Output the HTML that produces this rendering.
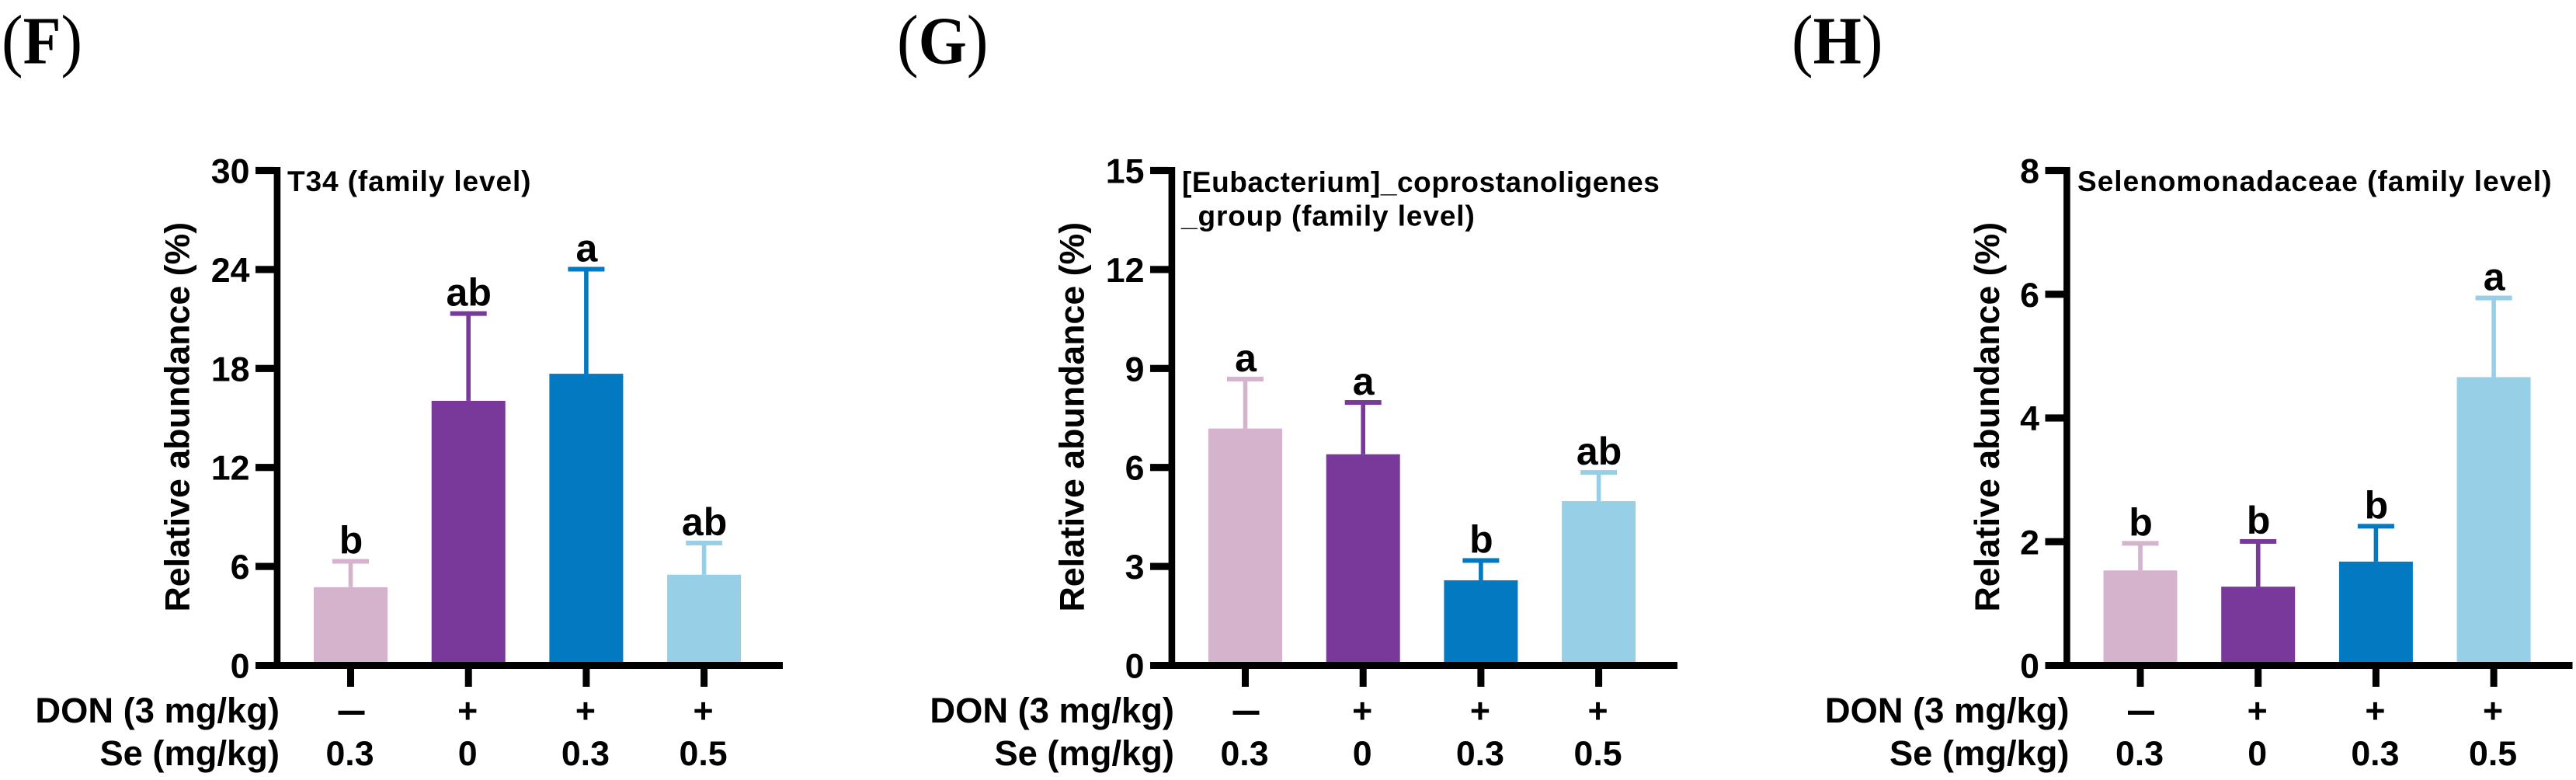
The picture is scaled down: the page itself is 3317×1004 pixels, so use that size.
<!DOCTYPE html>
<html lang="en">
<head>
<meta charset="utf-8">
<title>Relative abundance bar charts (F, G, H)</title>
<style>
  html, body { margin: 0; padding: 0; background: #fff; }
  svg { display: block; }
  text { font-family: "Liberation Sans", sans-serif; font-weight: 700; fill: #000; }
  .panel-letter { font-family: "Liberation Serif", serif; font-size: 87px; }
  .panel-letter .paren { font-weight: 400; font-size: 90px; }
  .panel-title { font-size: 37px; letter-spacing: 0.9px; }
  .axis-title { font-size: 44.7px; text-anchor: middle; }
  .row-label { font-size: 45.3px; text-anchor: end; }
  .tick-label { font-size: 44.7px; text-anchor: end; }
  .cat-label { font-size: 44.7px; text-anchor: middle; }
  .sig-label { font-size: 50px; text-anchor: middle; }
</style>
</head>
<body>
<svg id="figure" xmlns="http://www.w3.org/2000/svg" width="3317" height="1004" viewBox="0 0 3317 1004">
  <rect x="0" y="0" width="3317" height="1004" fill="#fff"/>

  <text class="panel-letter" transform="translate(2 81.7) scale(0.92 1)"><tspan class="paren">(</tspan>F<tspan class="paren">)</tspan></text>
  <text class="panel-letter" transform="translate(1155 81.7) scale(0.92 1)"><tspan class="paren">(</tspan>G<tspan class="paren">)</tspan></text>
  <text class="panel-letter" transform="translate(2307 81.7) scale(0.92 1)"><tspan class="paren">(</tspan>H<tspan class="paren">)</tspan></text>

  <text class="panel-title" x="370" y="246">T34 (family level)</text>
  <text class="panel-title" x="1522" y="247" style="letter-spacing:0.55px">[Eubacterium]_coprostanoligenes</text>
  <text class="panel-title" x="1521" y="290.6">_group (family level)</text>
  <text class="panel-title" x="2675" y="246" style="letter-spacing:1.02px">Selenomonadaceae (family level)</text>

  <text class="axis-title" transform="translate(243.5 536.7) rotate(-90)">Relative abundance (%)</text>
  <text class="axis-title" transform="translate(1395.7 536.7) rotate(-90)">Relative abundance (%)</text>
  <text class="axis-title" transform="translate(2574 536.7) rotate(-90)">Relative abundance (%)</text>

  <text class="row-label" x="360" y="930">DON (3 mg/kg)</text>
  <text class="row-label" x="360" y="985">Se (mg/kg)</text>
  <text class="row-label" x="1512" y="930">DON (3 mg/kg)</text>
  <text class="row-label" x="1512" y="985">Se (mg/kg)</text>
  <text class="row-label" x="2664.5" y="930">DON (3 mg/kg)</text>
  <text class="row-label" x="2664.5" y="985">Se (mg/kg)</text>

  <g id="plots"></g>
</svg>

<script>
const donLevels = ['—', '+', '+', '+'];
const seLevels = ['0.3', '0', '0.3', '0.5'];

const fTicks = [0, 6, 12, 18, 24, 30];
const fMeans = [4.74, 16.04, 17.68, 5.50];
const fErrors = [1.57, 5.29, 6.34, 1.92];
const fLetters = ['b', 'ab', 'a', 'ab'];

const gTicks = [0, 3, 6, 9, 12, 15];
const gMeans = [7.18, 6.40, 2.58, 4.98];
const gErrors = [1.50, 1.57, 0.60, 0.87];
const gLetters = ['a', 'a', 'b', 'ab'];

const hTicks = [0, 2, 4, 6, 8];
const hMeans = [1.535, 1.273, 1.678, 4.66];
const hErrors = [0.438, 0.731, 0.572, 1.28];
const hLetters = ['b', 'b', 'b', 'a'];

const groupColors = ['#D5B3CD', '#78399B', '#0279C1', '#97CFE6'];

const SVG_NS = 'http://www.w3.org/2000/svg';
const plots = document.getElementById('plots');

const Y_ZERO = 856.5;
const Y_SPAN = 637;
const FIRST_CENTER = 451.5;
const BAR_PITCH = 151.7;
const BAR_WIDTH = 95;
const CAP_WIDTH = 47;
const CAP_HEIGHT = 6;
const WHISKER_WIDTH = 5.6;

function makeShape(tag, props) {
  const el = document.createElementNS(SVG_NS, tag);
  Object.keys(props).forEach(function (k) { el.setAttribute(k, props[k]); });
  return el;
}

function drawPanel(key, originX, ticks, means, errors, letters) {
  const yMax = Math.max.apply(null, ticks);
  const yScale = function (v) { return Y_ZERO - (Y_SPAN * v) / yMax; };
  const xScale = function (i) { return originX + FIRST_CENTER + BAR_PITCH * i; };

  const group = makeShape('g', {});
  
  
  plots.appendChild(group);

  means.forEach(function (mean, i) {
    const cx = xScale(i);
    const top = yScale(mean);
    const errTop = yScale(mean + errors[i]);
    const color = groupColors[i];

    const bar = makeShape('rect', { x: cx - BAR_WIDTH / 2, y: top, width: BAR_WIDTH, height: yScale(0) - top, fill: color });
    
    
    group.appendChild(bar);

    const whisker = makeShape('rect', { x: cx - WHISKER_WIDTH / 2, y: errTop, width: WHISKER_WIDTH, height: top - errTop, fill: color });
    
    
    group.appendChild(whisker);

    const cap = makeShape('rect', { x: cx - CAP_WIDTH / 2, y: errTop - CAP_HEIGHT / 2, width: CAP_WIDTH, height: CAP_HEIGHT, fill: color });
    
    
    group.appendChild(cap);

    const sig = makeShape('text', { class: 'sig-label', x: cx + 0.5, y: errTop - 10 });
    sig.textContent = letters[i];
    
    
    group.appendChild(sig);
  });

  const yAxis = makeShape('rect', { x: originX + 352.6, y: 215, width: 8.6, height: 646, fill: '#000' });
  
  
  group.appendChild(yAxis);

  const xAxis = makeShape('rect', { x: originX + 329, y: 852, width: 679, height: 9, fill: '#000' });
  
  
  group.appendChild(xAxis);

  ticks.forEach(function (t) {
    const y = yScale(t);
    if (t !== 0) {
      const tick = makeShape('rect', { x: originX + 329, y: y - 4.6, width: 24, height: 9.2, fill: '#000' });
      
      
      group.appendChild(tick);
    }
    const label = makeShape('text', { class: 'tick-label', x: originX + 321.5, y: y + 16 });
    label.textContent = String(t);
    
    
    group.appendChild(label);
  });

  donLevels.forEach(function (don, i) {
    const cx = xScale(i);

    const tick = makeShape('rect', { x: cx - 4.5, y: 861, width: 9, height: 23, fill: '#000' });
    
    
    group.appendChild(tick);

    const isDash = don === '—';
    const donText = makeShape('text', isDash
      ? { class: 'cat-label', x: cx + 1, y: 926, style: 'font-size:32px;stroke:#000;stroke-width:2px' }
      : { class: 'cat-label', x: cx - 1, y: 930 });
    donText.textContent = don;
    
    
    group.appendChild(donText);

    const seText = makeShape('text', { class: 'cat-label', x: cx - 1, y: 985 });
    seText.textContent = seLevels[i];
    
    
    group.appendChild(seText);
  });
}

drawPanel('f', 0, fTicks, fMeans, fErrors, fLetters);
drawPanel('g', 1152, gTicks, gMeans, gErrors, gLetters);
drawPanel('h', 2304.5, hTicks, hMeans, hErrors, hLetters);
</script>
</body>
</html>
